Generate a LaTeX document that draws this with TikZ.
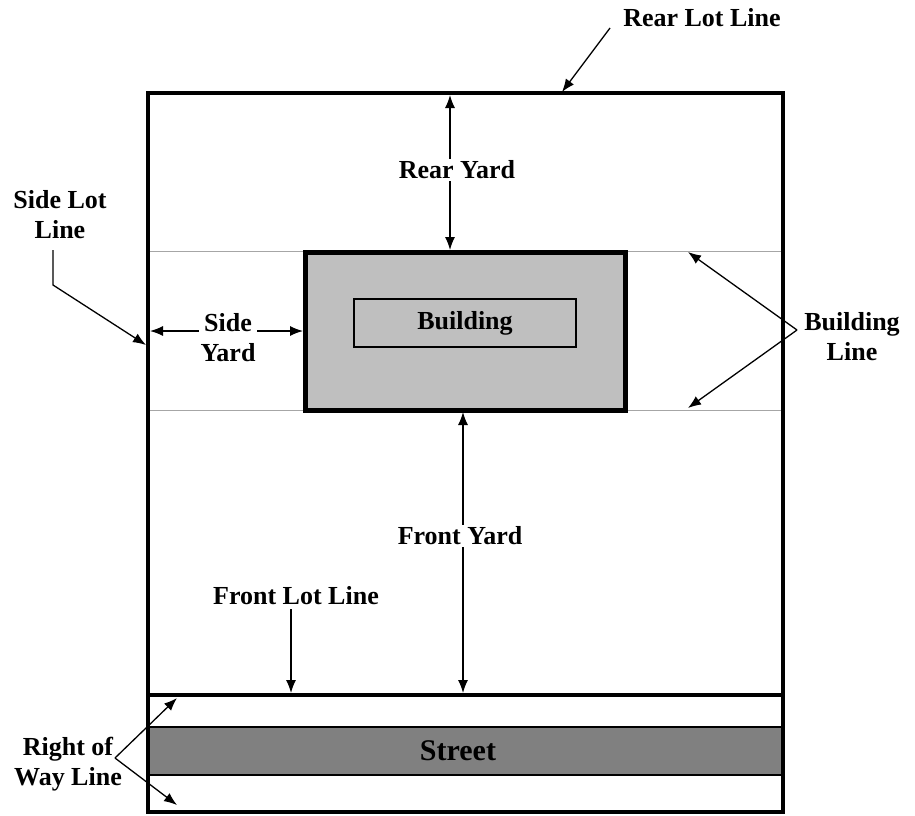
\documentclass[tikz,border=0pt]{standalone}
\usepackage{fontspec}
\setmainfont{Liberation Serif}
\usetikzlibrary{arrows.meta}
\tikzset{
  lot/.style={line width=1.6pt},
  bline/.style={line width=0.5pt, gray!70},
  dim/.style={line width=0.65pt},
  lbl/.style={font=\fontsize{13}{15}\selectfont\bfseries, align=center, inner sep=1pt},
  cover/.style={lbl, fill=white},
}
\begin{document}
\begin{tikzpicture}[x=0.5pt, y=-0.5pt, >={Latex[length=6.5pt,width=5pt]}]
  \useasboundingbox (0,0) rectangle (915,815);
  % lot corners
  \coordinate (LT) at (148, 93);
  \coordinate (RT) at (783, 93);
  \coordinate (FL) at (148, 695);
  \coordinate (FR) at (783, 695);
  \coordinate (BL) at (148, 812);
  \coordinate (BR) at (783, 812);
  % street band
  \draw[fill=gray, line width=0.6pt] (148, 727) rectangle (783, 775);
  \node[font=\fontsize{15}{17}\selectfont\bfseries] (street) at (458, 751) {Street};
  % building lines
  \draw[bline] (148, 251) -- (783, 251);
  \draw[bline] (148, 410) -- (783, 410);
  % lot lines
  \draw[lot] (LT) -- (RT) -- (BR) -- (BL) -- cycle;
  \draw[lot] (FL) -- (FR);
  % building
  \node[draw, line width=2.5pt, fill=gray!50, minimum width=160pt, minimum height=79pt] (bldg) at (465, 331) {};
  \node[draw, line width=0.6pt, minimum width=111pt, minimum height=24pt, lbl] (bname) at (465, 323) {Building};
  % yards
  \coordinate (rtop) at (450, 95);
  \coordinate (rbot) at (450, 250);
  \draw[dim, <->] (rtop) -- (rbot);
  \node[cover] (rear) at (457, 170) {Rear Yard};
  \coordinate (ftop) at (463, 412);
  \coordinate (fbot) at (463, 693);
  \draw[dim, <->] (ftop) -- (fbot);
  \node[cover] (front) at (460, 536) {Front Yard};
  \coordinate (sleft) at (150, 331);
  \coordinate (sright) at (303, 331);
  \draw[dim, <->] (sleft) -- (sright);
  \node[cover] (side) at (228, 338) {Side\\Yard};
  % lot line labels
  \node[lbl] (rearlot) at (702, 18) {Rear Lot Line};
  \coordinate (rearfrom) at (610, 28);
  \coordinate (reartip) at (562, 92);
  \draw[dim, ->] (rearfrom) -- (reartip);
  \node[lbl] (sidelot) at (60, 215) {Side Lot\\Line};
  \coordinate (sidefrom) at (53, 250);
  \coordinate (sidebend) at (53, 285);
  \coordinate (sidetip) at (146, 345);
  \draw[dim, ->] (sidefrom) -- (sidebend) -- (sidetip);
  \node[lbl] (buildline) at (852, 337) {Building\\Line};
  \coordinate (bv) at (797, 330);
  \coordinate (bltop) at (688, 252);
  \coordinate (blbot) at (688, 408);
  \draw[dim, ->] (bv) -- (bltop);
  \draw[dim, ->] (bv) -- (blbot);
  \node[lbl] (frontlot) at (296, 596) {Front Lot Line};
  \coordinate (flfrom) at (291, 609);
  \coordinate (fltip) at (291, 693);
  \draw[dim, ->] (flfrom) -- (fltip);
  \node[lbl] (row) at (68, 764) {Right of\\Way Line};
  \coordinate (rv) at (115, 758);
  \coordinate (rwtop) at (177, 698);
  \coordinate (rwbot) at (177, 805);
  \draw[dim, ->] (rv) -- (rwtop);
  \draw[dim, ->] (rv) -- (rwbot);
\end{tikzpicture}
\end{document}
